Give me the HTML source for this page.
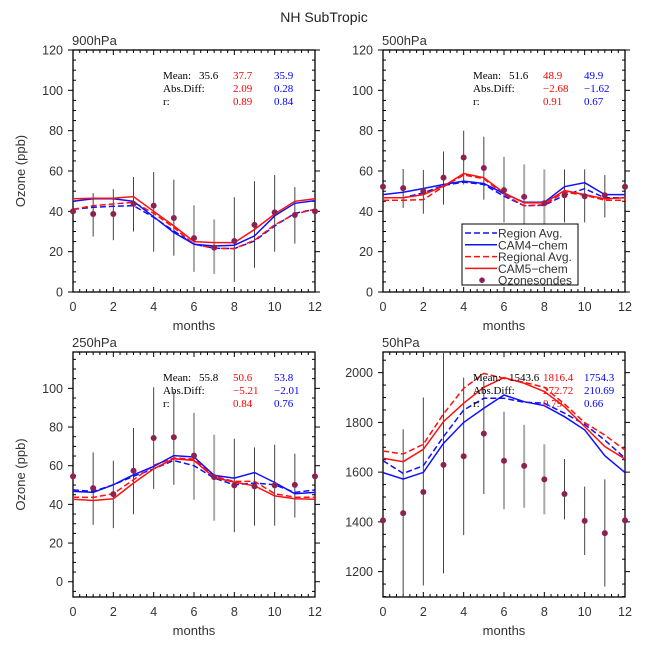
<!DOCTYPE html>
<html><head><meta charset="utf-8"><style>
body{margin:0;background:#fff}
svg{display:block;font-family:"Liberation Sans",sans-serif}
.st{font-family:"Liberation Serif",serif;font-size:11px;font-weight:normal}
</style></head><body>
<svg id="chart" width="648" height="648" viewBox="0 0 648 648">
<text x="324" y="22" text-anchor="middle" font-size="14" fill="#222">NH SubTropic</text>
</svg>
<script>
const months=[0,1,2,3,4,5,6,7,8,9,10,11,12];
// 900hPa
const obs900=[40,38.7,38.7,43.7,42.8,36.7,26.7,22,25.3,33.3,39.5,38.2,40];
const errHi900=[null,49,51,57,59.5,55.7,43,36,47,55,58,52,null];
const errLo900=[null,27.5,25.7,30,20,18,10,9,5,12,20,24,null];
const cam5_900=[46.2,46.5,46.5,47.3,40,32.8,25,24.5,24.5,31,38.7,45,46.2];
const cam4_900=[45,46.2,46.2,45,37.3,29.5,23.7,22.8,23.2,27.8,37.8,44,45.3];
const regRed900=[41,42.8,43.7,44.5,39,32,23.7,21.7,21.5,25.7,33.3,38.7,41];
const regBlue900=[41,42,42.5,42.8,37,30.3,23.7,21.7,21.5,25.3,32.8,39,41];
// 500hPa
const obs500=[52.2,51.5,50,56.7,66.7,61.5,50.5,47.2,44,48,47.5,48,52.2];
const errHi500=[null,61,60.5,69.7,80,77,67,63.3,60.8,60.8,60.8,58,null];
const errLo500=[null,41.7,38.8,43.3,53.3,45.8,34.5,33.3,33.3,34.5,34.5,37,null];
const cam5_500=[46.7,46.7,48.3,52.5,58.7,56.7,49.2,44.2,44.2,50.3,48.3,46.2,46.7];
const cam4_500=[48.3,49.5,51.3,53.3,55,53.8,48.8,44.5,44.5,52.2,54.2,48.3,48.3];
const regRed500=[45.5,45.5,45.8,52.2,58,56.2,48.3,42.8,43.3,49.5,48,45.5,45.5];
const regBlue500=[46.7,46.7,49.2,52.8,54.5,53.3,47.5,42.8,43,48,51.2,46.7,46.7];
// 250hPa
const obs250=[54.5,48.4,45.3,57.4,74.3,74.7,65.2,54.1,49.8,49.3,49.8,50.1,54.5];
const errHi250=[null,66.9,62.6,79.5,100.6,98.5,87.3,76,74,69.5,70.9,66.2,null];
const errLo250=[null,29.4,27.7,34.9,48,50.1,42.4,31.5,25.6,29,29,33.2,null];
const cam5_250=[42.7,42,42.9,51,58.4,63.6,62.7,53.9,51.5,49.6,44.4,42.9,42.7];
const cam4_250=[46.7,46.2,50.1,55.3,59.6,65.2,64.5,55,53.6,56.5,51.3,45.5,46.2];
const regRed250=[43.7,43.6,45.5,52.7,60.2,64,63.4,54.5,51.9,51.9,45.5,43.7,43.7];
const regBlue250=[47.5,46.7,50.1,54.5,58.4,62.7,60,53.6,50.1,51,50.1,46.2,47.5];
// 50hPa
const obs50=[1406,1435,1520,1629,1664,1755,1646,1625,1571,1512,1404,1355,1406];
const errHi50=[null,1772,1900,2100,1980,1966,1843,1790,1712,1653,1542,1571,null];
const errLo50=[null,1093,1144,1193,1347,1512,1451,1457,1430,1410,1267,1140,null];
const cam5_50=[1656,1642,1692,1803,1877,1941,1980,1957,1924,1863,1783,1703,1653];
const cam4_50=[1598,1572,1599,1716,1800,1857,1910,1883,1867,1823,1770,1666,1598];
const regRed50=[1685,1673,1712,1834,1937,1997,1977,1961,1941,1874,1799,1749,1689];
const regBlue50=[1646,1595,1626,1743,1850,1897,1897,1881,1877,1837,1792,1729,1656];
const yTicksLow=[0,20,40,60,80,100,120];
const yTicks50=[1200,1400,1600,1800,2000];
const xTicks=[0,2,4,6,8,10,12];
const greyBars={p900:[6,7],p500:[6,7,8],p250:[6,7],p50:[6,7,8]};

const svg=document.getElementById('chart');
const NS='http://www.w3.org/2000/svg';
function mk(tag,at,parent){const e=document.createElementNS(NS,tag);for(const k in at)e.setAttribute(k,at[k]);(parent||svg).appendChild(e);return e;}

function panel(cfg){
  const g=mk('g',{});
  
  
  const X=m=>cfg.x0+(cfg.x1-cfg.x0)*m/12;
  const Y=v=>cfg.y1-(cfg.y1-cfg.y0)*(v-cfg.ymin)/(cfg.ymax-cfg.ymin);
  for(let m=0;m<=12.001;m+=1/3){
    const maj=Math.abs(m-Math.round(m/2)*2)<0.01;const L=maj?5:3;
    mk('line',{x1:X(m),x2:X(m),y1:cfg.y1,y2:cfg.y1-L,stroke:'#000','stroke-width':1},g);
    mk('line',{x1:X(m),x2:X(m),y1:cfg.y0,y2:cfg.y0+L,stroke:'#000','stroke-width':1},g);
  }
  for(let v=Math.ceil(cfg.ymin/cfg.minor)*cfg.minor;v<=cfg.ymax;v+=cfg.minor){
    const maj=Math.abs(v%cfg.major)<0.01;
    mk('line',{x1:cfg.x0-(maj?5:0),x2:cfg.x0+(maj?0:3),y1:Y(v),y2:Y(v),stroke:'#000','stroke-width':1},g);
    mk('line',{x1:cfg.x1+(maj?5:0),x2:cfg.x1-(maj?0:3),y1:Y(v),y2:Y(v),stroke:'#000','stroke-width':1},g);
  }
  const fr=mk('rect',{x:cfg.x0,y:cfg.y0,width:cfg.x1-cfg.x0,height:cfg.y1-cfg.y0,fill:'none',stroke:'#000','stroke-width':1.3},g);
  
  xTicks.forEach(m=>{const t=mk('text',{x:X(m),y:cfg.y1+19,'text-anchor':'middle','font-size':12.5,fill:'#333'},g);t.textContent=m;
    });
  cfg.yt.forEach(v=>{const t=mk('text',{x:cfg.x0-10,y:Y(v)+4.5,'text-anchor':'end','font-size':12.5,fill:'#333'},g);t.textContent=v;
    });
  const xl=mk('text',{x:(cfg.x0+cfg.x1)/2,y:cfg.y1+38,'text-anchor':'middle','font-size':13,fill:'#333'},g);xl.textContent='months';
  
  if(cfg.ylab){const yl=mk('text',{x:0,y:0,'text-anchor':'middle','font-size':13,fill:'#333',transform:`translate(${cfg.x0-48},${(cfg.y0+cfg.y1)/2}) rotate(-90)`},g);yl.textContent='Ozone (ppb)';
    }
  const pt=mk('text',{x:cfg.x0-1,y:cfg.y0-5,'font-size':13,fill:'#333'},g);pt.textContent=cfg.title;
  
  months.forEach((m,i)=>{if(cfg.hi[i]==null)return;
    const hi=Math.min(cfg.hi[i],cfg.ymax),lo=Math.max(cfg.lo[i],cfg.ymin);
    const gr=cfg.grey.includes(m);
    const e=mk('line',{x1:X(m),x2:X(m),y1:Y(hi),y2:Y(lo),stroke:gr?'#aaa':'#444','stroke-width':gr?2:1},g);
    });
  const series=[[cfg.regBlue,'#1010ff','6,3','region-avg-line'],[cfg.regRed,'#ff1010','6,3','regional-avg-line'],[cfg.cam4,'#1010ff','','cam4-chem-line'],[cfg.cam5,'#ff1010','','cam5-chem-line']];
  series.forEach(s=>{const d=s[0].map((v,i)=>(i?'L':'M')+X(months[i]).toFixed(1)+' '+Y(v).toFixed(1)).join('');
    const p=mk('path',{d:d,fill:'none',stroke:s[1],'stroke-width':1.5,'stroke-dasharray':s[2]||'none'},g);
    });
  cfg.obs.forEach((v,i)=>{const c=mk('circle',{cx:X(months[i]),cy:Y(v),r:3,fill:'#8b2252'},g);
    });
  const sx=cfg.x0+90, sy=cfg.y0+29;
  const rows=[['Mean:',cfg.st[0]],['Abs.Diff:',cfg.st[1]],['r:',cfg.st[2]]];
  rows.forEach((r,k)=>{
    const a=mk('text',{x:sx,y:sy+k*13,class:'st',fill:'#000'},g);a.textContent=r[0];
    
    if(r[1][0]!==''){const b=mk('text',{x:sx+36,y:sy+k*13,class:'st',fill:'#000'},g);b.textContent=r[1][0];
      }
    const c=mk('text',{x:sx+70,y:sy+k*13,class:'st',fill:'#ff0000'},g);c.textContent=r[1][1];
    
    const d=mk('text',{x:sx+111,y:sy+k*13,class:'st',fill:'#0000ff'},g);d.textContent=r[1][2];
    
  });
}
panel({name:'panel-900hpa',title:'900hPa',x0:73,x1:315,y0:50,y1:292,ymin:0,ymax:120,major:20,minor:5,yt:yTicksLow,ylab:true,
  obs:obs900,hi:errHi900,lo:errLo900,cam5:cam5_900,cam4:cam4_900,regRed:regRed900,regBlue:regBlue900,grey:greyBars.p900,
  st:[['35.6','37.7','35.9'],['','2.09','0.28'],['','0.89','0.84']]});
panel({name:'panel-500hpa',title:'500hPa',x0:383,x1:625,y0:50,y1:292,ymin:0,ymax:120,major:20,minor:5,yt:yTicksLow,ylab:false,
  obs:obs500,hi:errHi500,lo:errLo500,cam5:cam5_500,cam4:cam4_500,regRed:regRed500,regBlue:regBlue500,grey:greyBars.p500,
  st:[['51.6','48.9','49.9'],['','\u22122.68','\u22121.62'],['','0.91','0.67']]});
panel({name:'panel-250hpa',title:'250hPa',x0:73,x1:315,y0:352,y1:597,ymin:-7.9,ymax:118.8,major:20,minor:5,yt:yTicksLow.slice(0,6),ylab:true,
  obs:obs250,hi:errHi250,lo:errLo250,cam5:cam5_250,cam4:cam4_250,regRed:regRed250,regBlue:regBlue250,grey:greyBars.p250,
  st:[['55.8','50.6','53.8'],['','\u22125.21','\u22122.01'],['','0.84','0.76']]});
panel({name:'panel-50hpa',title:'50hPa',x0:383,x1:625,y0:352,y1:597,ymin:1098,ymax:2083,major:200,minor:50,yt:yTicks50,ylab:false,
  obs:obs50,hi:errHi50,lo:errLo50,cam5:cam5_50,cam4:cam4_50,regRed:regRed50,regBlue:regBlue50,grey:greyBars.p50,
  st:[['1543.6','1816.4','1754.3'],['','272.72','210.69'],['','0.79','0.66']]});
const lg=mk('g',{});


mk('rect',{x:462,y:224,width:116,height:61,fill:'#fff',stroke:'#000','stroke-width':1},lg);
const ents=[['Region Avg.','#1010ff','6,3'],['CAM4\u2212chem','#1010ff',''],['Regional Avg.','#ff1010','6,3'],['CAM5\u2212chem','#ff1010',''],['Ozonesondes','',null]];
ents.forEach((e,k)=>{const y=233+k*11.8;
  const eg=mk('g',{},lg);
  
  
  if(e[2]===null)mk('circle',{cx:482,cy:y,r:2.8,fill:'#8b2252'},eg);
  else mk('line',{x1:465,x2:497,y1:y,y2:y,stroke:e[1],'stroke-width':1.5,'stroke-dasharray':e[2]||'none'},eg);
  const t=mk('text',{x:498,y:y+4.5,'font-size':12,fill:'#333'},eg);t.textContent=e[0];});
</script>
</body></html>
